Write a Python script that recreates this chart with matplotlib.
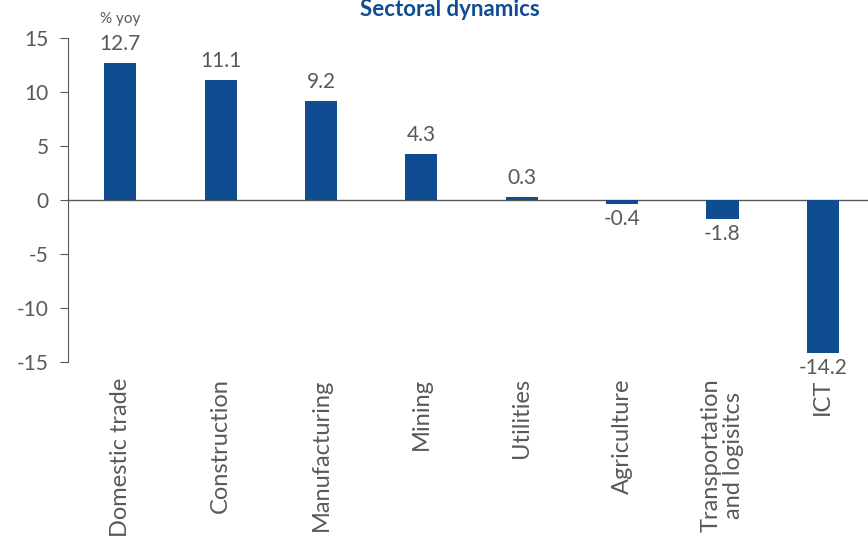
import matplotlib
matplotlib.use("Agg")
import matplotlib.pyplot as plt

categories = ["Domestic trade", "Construction", "Manufacturing", "Mining",
              "Utilities", "Agriculture", "Transportation\nand logisitcs", "ICT"]
values = [12.7, 11.1, 9.2, 4.3, 0.3, -0.4, -1.8, -14.2]
yticks = [15, 10, 5, 0, -5, -10, -15]

plt.rcParams['font.family'] = ['Lato', 'DejaVu Sans']
gray = '#595959'
blue = '#0F4C91'

fig = plt.figure(figsize=(8.68, 5.43), dpi=100)
ax = fig.add_axes([68/868, 1-362/543, 800/868, 324/543])
x = list(range(len(categories)))
ax.bar(x, values, width=0.32, color=blue, zorder=3)
ax.set_xlim(-0.52, 7.45)
ax.set_ylim(-15, 15)
ax.set_yticks(yticks)
ax.set_yticklabels([str(t) for t in yticks], fontsize=15, color=gray)
ax.tick_params(axis='y', direction='out', length=6, color=gray, pad=8)
ax.axhline(0, color=gray, lw=1, zorder=2)
for s in ['top', 'right', 'bottom']:
    ax.spines[s].set_visible(False)
ax.spines['left'].set_color(gray)
ax.set_xticks(x)
ax.set_xticklabels([])
ax.tick_params(axis='x', length=0)
for i, (c, v) in enumerate(zip(categories, values)):
    ax.text(i, -16.5, c, rotation=90, ha='center', va='top', fontsize=17,
            color=gray, linespacing=1.05)
    if v >= 0:
        ax.text(i, v + 0.8, f"{v}", ha='center', va='bottom', fontsize=15, color=gray)
    else:
        ax.text(i, v - 0.4, f"{v}", ha='center', va='top', fontsize=15, color=gray)
fig.text(120/868, 1-19/543, "% yoy", ha='center', va='center', fontsize=11, color=gray)
fig.text(450/868, 1-10/543, "Sectoral dynamics", ha='center', va='center',
         fontsize=16, fontweight='bold', color=blue)
fig.savefig("out.png", dpi=100)
